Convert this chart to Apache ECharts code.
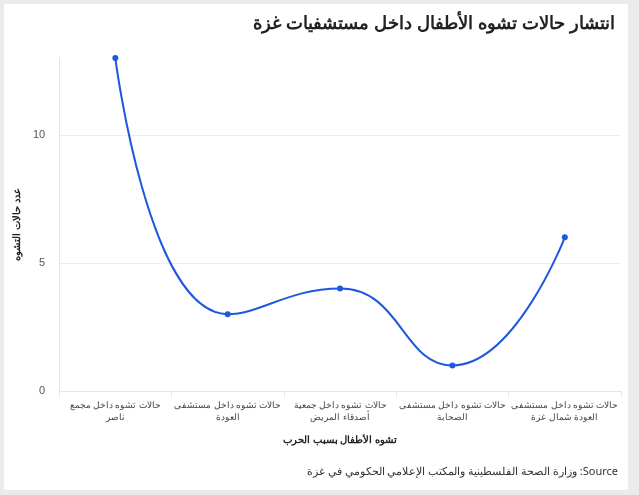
<!DOCTYPE html>
<html><head><meta charset="utf-8">
<script src="https://cdn.jsdelivr.net/npm/echarts@6/dist/echarts.min.js"></script>
<style>html,body{margin:0;padding:0;background:#ebebeb;width:639px;height:495px;overflow:hidden}
#c{position:absolute;left:4px;top:4px;width:624px;height:486px;background:#fff}</style>
</head><body><div id="c"></div>
<script>
var categories = ["حالات تشوه داخل مجمع\nناصر","حالات تشوه داخل مستشفى\nالعودة","حالات تشوه داخل جمعية\nأصدقاء المريض","حالات تشوه داخل مستشفى\nالصحابة","حالات تشوه داخل مستشفى\nالعودة شمال غزة"];
var values = [13,3,4,1,6];
var chart = echarts.init(document.getElementById('c'));
chart.setOption({
  animation:false,
  title:{text:"انتشار حالات تشوه الأطفال داخل مستشفيات غزة",right:8,top:6,textStyle:{fontFamily:"Liberation Sans",fontSize:18,fontWeight:'bold',color:'#222'}},
  graphic:[{type:'text',right:10,top:462,style:{text:"\u200Eوزارة الصحة الفلسطينية والمكتب الإعلامي الحكومي في غزة :Source",font:'11px "Noto Sans"',fill:'#333'}}],
  grid:{left:54,right:7,top:54,bottom:99},
  xAxis:{type:'category',data:categories,boundaryGap:true,
    name:"تشوه الأطفال بسبب الحرب",nameLocation:'middle',nameGap:44,nameTextStyle:{fontSize:10,fontWeight:'bold',color:'#222',fontFamily:'Noto Sans'},
    axisLine:{lineStyle:{color:'#e6e6e6'}},axisTick:{show:true,lineStyle:{color:'#e6e6e6'},length:6},
    axisLabel:{fontSize:9,color:'#444',lineHeight:12,interval:0,fontFamily:'Noto Sans'}},
  yAxis:{type:'value',min:0,max:13,interval:5,
    name:"عدد حالات التشوه",nameLocation:'middle',nameGap:25,nameTextStyle:{fontSize:10,fontWeight:'bold',color:'#222',fontFamily:'Noto Sans'},
    axisLine:{show:true,lineStyle:{color:'#e6e6e6'}},axisLabel:{fontSize:11,color:'#555',margin:14,showMaxLabel:false},
    splitLine:{lineStyle:{color:['#eeeeee','#eeeeee','#eeeeee','rgba(0,0,0,0)']}}},
  series:[{type:'line',data:values,smooth:0.5,symbol:'circle',symbolSize:6,
    lineStyle:{color:'#1f57e0',width:2},itemStyle:{color:'#1f57e0'}}]
});
</script></body></html>
